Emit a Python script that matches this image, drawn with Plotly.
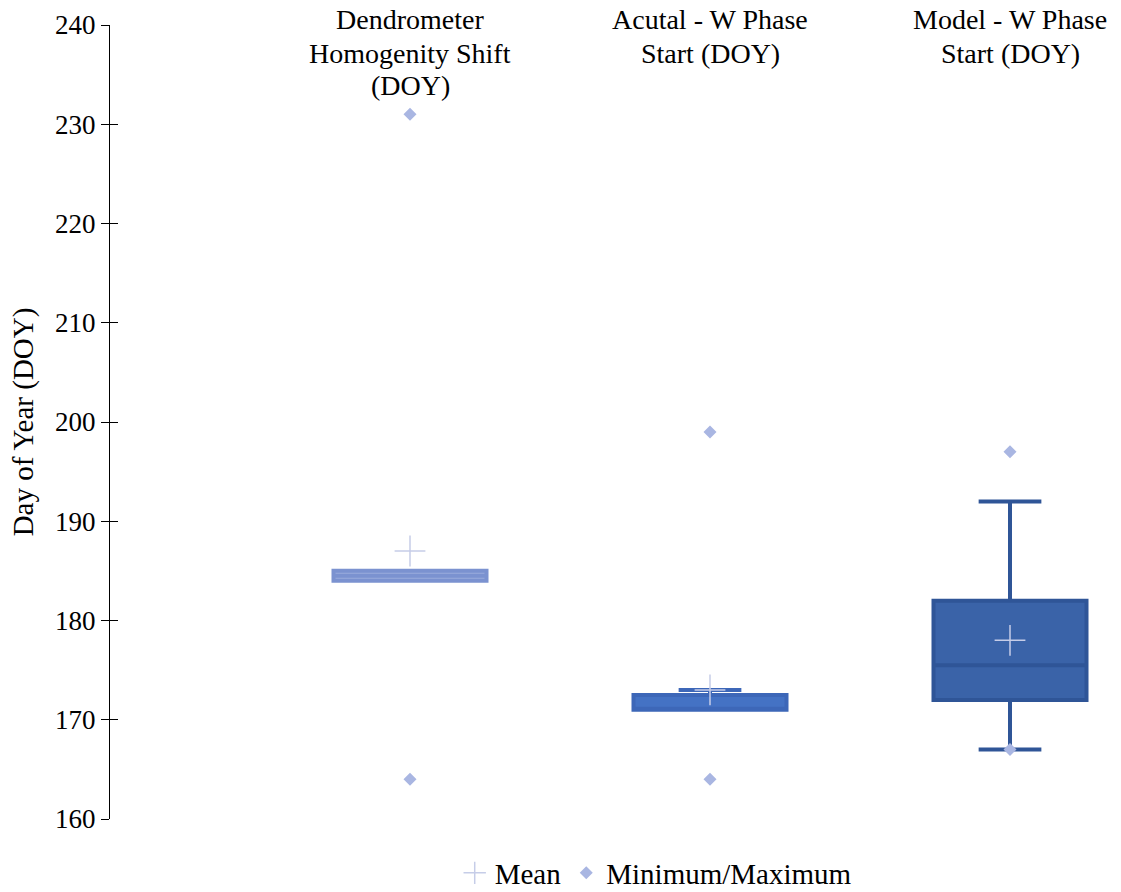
import plotly.graph_objects as go

# Category labels (drawn above each box), one entry per text line
categories = [["Dendrometer", "Homogenity Shift", "(DOY)"],
              ["Acutal - W Phase", "Start (DOY)"],
              ["Model - W Phase", "Start (DOY)"]]
positions = [1, 2, 3]

# Box statistics per category (day of year)
q1 = [184, 171, 172]
median = [184.5, 171, 175.5]
q3 = [185, 172.5, 182]
lower_whisker = [184, 171, 167]
upper_whisker = [185, 173, 192]
means = [187, 173, 178]
minimums = [164, 164, 167]
maximums = [231, 199, 197]

fill_colors = ["#9aabdc", "#4472c4", "#3a63a8"]
line_colors = ["#7b92d0", "#3d67b8", "#2f5597"]

FONT = "Liberation Serif"
W, H = 1121, 892
M_L, M_R, M_T, M_B = 110, 6, 25, 73
PLOT_H = H - M_T - M_B

fig = go.Figure()

for i in range(len(positions)):
    fig.add_trace(go.Box(
        x=[positions[i]],
        q1=[q1[i]], median=[median[i]], q3=[q3[i]],
        lowerfence=[lower_whisker[i]], upperfence=[upper_whisker[i]],
        width=0.51, whiskerwidth=0.41,
        fillcolor=fill_colors[i],
        line=dict(color=line_colors[i], width=4),
        boxpoints=False, showlegend=False, hoverinfo="skip",
    ))

fig.add_trace(go.Scatter(
    x=positions, y=means, mode="markers", name="Mean",
    marker=dict(symbol="cross-thin", size=22,
                line=dict(color="#c6cde8", width=1.5)),
))
fig.add_trace(go.Scatter(
    x=positions + positions, y=minimums + maximums, mode="markers",
    name="Minimum/Maximum",
    marker=dict(symbol="diamond", size=10, color="#a9b6e2"),
))

# category labels above the plot, tight Excel-like line spacing
LINE_TOP, LINE_STEP = 20, 33
for p, lines in zip(positions, categories):
    for k, line in enumerate(lines):
        py = LINE_TOP + k * LINE_STEP
        fig.add_annotation(x=p, xref="x", y=1 + (M_T - py) / PLOT_H,
                           yref="paper", yanchor="middle",
                           text=line, showarrow=False,
                           font=dict(family=FONT, size=28, color="black"))

fig.update_layout(
    width=W, height=H,
    margin=dict(l=M_L, r=M_R, t=M_T, b=M_B, autoexpand=False),
    plot_bgcolor="white", paper_bgcolor="white",
    font=dict(family=FONT, size=27, color="black"),
    xaxis=dict(range=[0, 3.35], showticklabels=False, showgrid=False,
               zeroline=False, showline=False, ticks=""),
    yaxis=dict(range=[160, 240], dtick=10, showgrid=False, zeroline=False,
               showline=True, linecolor="black", linewidth=1,
               ticks="outside", ticklen=8, tickcolor="black",
               tickfont=dict(family=FONT, size=27, color="black"),
               title=dict(text="Day of Year (DOY)", standoff=12,
                          font=dict(family=FONT, size=29, color="black"))),
    yaxis2=dict(range=[160, 240], dtick=10, overlaying="y", side="left",
                anchor="x", showgrid=False, zeroline=False,
                showticklabels=False, ticks="inside", ticklen=8,
                tickcolor="black"),
    legend=dict(orientation="h", x=0.543, xanchor="center",
                y=-(873 - (H - M_B)) / PLOT_H, yanchor="middle",
                font=dict(family=FONT, size=29, color="black"),
                itemwidth=30),
)
# dummy trace on the overlay axis gives the inner half of the crossing ticks
fig.add_trace(go.Scatter(x=[None], y=[None], yaxis="y2", showlegend=False))

fig.write_html("out.html")
